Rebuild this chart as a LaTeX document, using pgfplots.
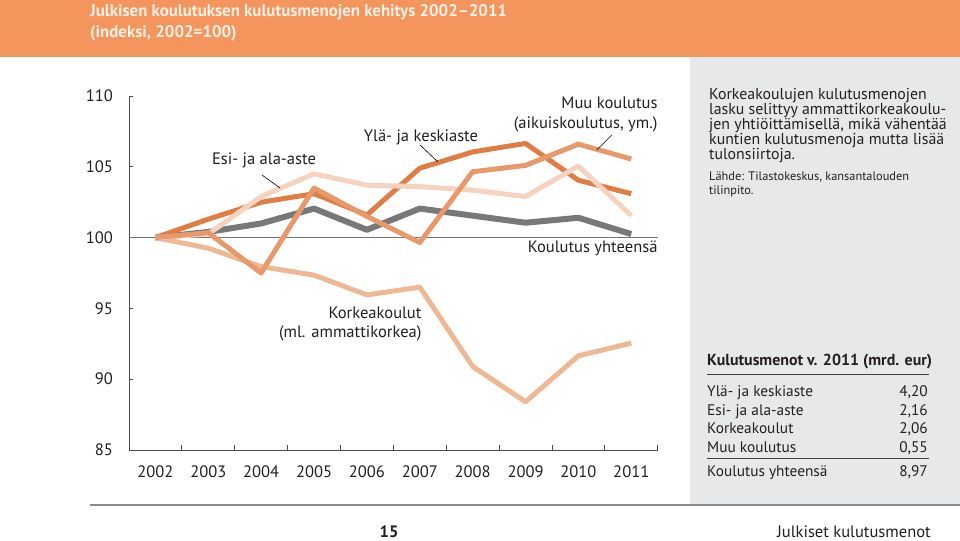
\documentclass[border=0pt]{standalone}
\usepackage{pgfplots}
\pgfplotsset{compat=1.18}
\usepackage{fontspec}
\setmainfont{PT Sans}
\definecolor{band}{HTML}{F4955E}
\definecolor{titletxt}{HTML}{FFF1E6}
\definecolor{panel}{HTML}{E7E8EA}
\definecolor{cgray}{HTML}{787878}
\definecolor{cyla}{HTML}{E07D45}
\definecolor{cmuu}{HTML}{E8996B}
\definecolor{ckork}{HTML}{EEB894}
\definecolor{cesi}{HTML}{F6D3BF}
\definecolor{txt}{HTML}{231F20}
\newcommand{\lbl}{\fontsize{16.6}{18}\selectfont}
\begin{document}
\begin{tikzpicture}
\useasboundingbox (0,0) rectangle (960bp,541bp);
\fill[band] (0,484bp) rectangle (960bp,541bp);
\fill[panel] (690bp,36bp) rectangle (960bp,484bp);
\draw[line width=2bp, color=gray!90] (90bp,35.5bp) -- (960bp,35.5bp);
\begin{axis}[
  at={(129bp,91bp)}, anchor=south west,
  scale only axis, width=528.7bp, height=354bp,
  xmin=2001.5, xmax=2011.5, ymin=85, ymax=110,
  axis x line*=bottom, axis y line*=left,
  axis line style={-, color=black!70, line width=0.8bp},
  clip=false,
  xtick={2002,2003,2004,2005,2006,2007,2008,2009,2010,2011},
  xticklabels={2002,2003,2004,2005,2006,2007,2008,2009,2010,2011},
  minor xtick={2002.5,2003.5,2004.5,2005.5,2006.5,2007.5,2008.5,2009.5,2010.5,2011.5},
  major x tick style={draw=none},
  minor x tick style={color=black!70, line width=0.8bp},
  minor tick length=5bp,
  ytick={85,90,95,100,105,110},
  major y tick style={color=black!70, line width=0.8bp},
  major tick length=4bp,
  tick align=inside,
  /pgf/number format/assume math mode=true,
  ticklabel style={font=\lbl, text=txt},
  xticklabel style={anchor=base, yshift=-27bp, inner sep=0pt},
  yticklabel style={anchor=east, xshift=-16bp, inner sep=0pt},
]
\addplot[color=black!55, line width=0.8bp] coordinates {(2001.5,100) (2011.5,100)};
\addplot[cgray, line width=6bp, line join=round] coordinates {
(2002,100) (2003,100.4) (2004,101.0) (2005,102.05) (2006,100.55) (2007,102.05) (2008,101.55) (2009,101.05) (2010,101.4) (2011,100.25)};
\addplot[ckork, line width=5bp, line join=round] coordinates {
(2002,100) (2003,99.25) (2004,97.95) (2005,97.35) (2006,95.95) (2007,96.5) (2008,90.9) (2009,88.4) (2010,91.65) (2011,92.55)};
\addplot[cyla, line width=5bp, line join=round] coordinates {
(2002,100) (2003,101.3) (2004,102.5) (2005,103.1) (2006,101.6) (2007,104.9) (2008,106.05) (2009,106.65) (2010,104.05) (2011,103.1)};
\addplot[cesi, line width=5bp, line join=round] coordinates {
(2002,100) (2003,100.25) (2004,102.9) (2005,104.5) (2006,103.7) (2007,103.6) (2008,103.35) (2009,102.9) (2010,105.05) (2011,101.55)};
\addplot[cmuu, line width=5bp, line join=round] coordinates {
(2002,100) (2003,100.35) (2004,97.5) (2005,103.5) (2006,101.5) (2007,99.65) (2008,104.65) (2009,105.1) (2010,106.6) (2011,105.55)};
\end{axis}
\begin{scope}[x=1bp,y=-1bp,yshift=541bp]
% title
\node[anchor=base west, inner sep=0pt, text=titletxt, font=\fontsize{16.9}{20}\selectfont\bfseries] at (90,16.7) {Julkisen koulutuksen kulutusmenojen kehitys 2002–2011};
\node[anchor=base west, inner sep=0pt, text=titletxt, font=\fontsize{16.9}{20}\selectfont\bfseries] at (90,37.3) {(indeksi, 2002=100)};
% chart labels
\node[anchor=base, inner sep=0pt, font=\lbl, text=txt] at (264,165) {Esi- ja ala-aste};
\draw[black, line width=0.6bp] (262,175) -- (280,188);
\node[anchor=base, inner sep=0pt, font=\lbl, text=txt] at (421,141.7) {Ylä- ja keskiaste};
\draw[black, line width=0.6bp] (420,145) -- (438,162);
\node[anchor=base east, inner sep=0pt, font=\lbl, text=txt] at (657.7,108.3) {Muu koulutus};
\node[anchor=base east, inner sep=0pt, font=\lbl, text=txt] at (657.7,128.3) {(aikuiskoulutus, ym.)};
\draw[black, line width=0.6bp] (611.7,135) -- (596.7,150);
\node[anchor=base east, inner sep=0pt, font=\lbl, text=txt] at (657.7,252.7) {Koulutus yhteensä};
\node[anchor=base east, inner sep=0pt, font=\lbl, text=txt] at (421.7,318.3) {Korkeakoulut};
\node[anchor=base east, inner sep=0pt, font=\lbl, text=txt] at (421.7,337.7) {(ml. ammattikorkea)};
% right panel
\foreach \t/\yy in {Korkeakoulujen kulutusmenojen/100, lasku selittyy ammattikorkeakoulu-/115, jen yhtiöittämisellä{,} mikä vähentää/130, kuntien kulutusmenoja mutta lisää/145, tulonsiirtoja./159.7}
  \node[anchor=base west, inner sep=0pt, font=\fontsize{15.9}{15}\selectfont, text=txt] at (709,\yy) {\t};
\node[anchor=base west, inner sep=0pt, font=\fontsize{12.4}{14}\selectfont, text=txt] at (709,180.7) {Lähde: Tilastokeskus, kansantalouden};
\node[anchor=base west, inner sep=0pt, font=\fontsize{12.4}{14}\selectfont, text=txt] at (709,194.3) {tilinpito.};
% table
\node[anchor=base west, inner sep=0pt, font=\fontsize{16}{16}\selectfont\bfseries, text=txt] at (707,366) {Kulutusmenot v. 2011 (mrd. eur)};
\draw[line width=1.4bp, color=black!75] (707,374.3) -- (929,374.3);
\draw[line width=1bp, color=black!75] (707,458.3) -- (929,458.3);
\foreach \n/\v/\yy in {Ylä- ja keskiaste/{4,20}/396.7, Esi- ja ala-aste/{2,16}/415.3, Korkeakoulut/{2,06}/434, Muu koulutus/{0,55}/452.3, Koulutus yhteensä/{8,97}/476.7} {
  \node[anchor=base west, inner sep=0pt, font=\fontsize{15.4}{16}\selectfont, text=txt] at (707,\yy) {\n};
  \node[anchor=base east, inner sep=0pt, font=\fontsize{15.4}{16}\selectfont, text=txt] at (928,\yy) {\v};
}
% footer
\node[anchor=base, inner sep=0pt, font=\fontsize{16.6}{18}\selectfont\bfseries, text=txt] at (389,538) {15};
\node[anchor=base east, inner sep=0pt, font=\fontsize{16.6}{18}\selectfont, text=txt] at (931,538) {Julkiset kulutusmenot};
\end{scope}
\end{tikzpicture}
\end{document}
